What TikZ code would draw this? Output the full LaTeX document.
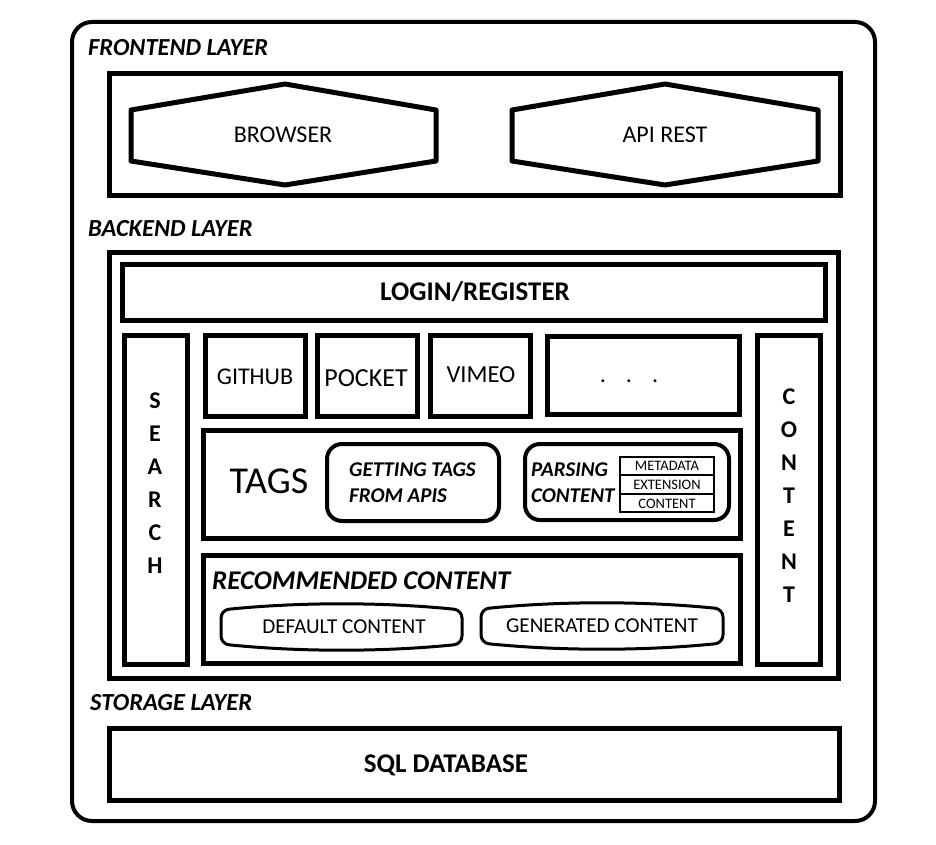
\documentclass[tikz,border=0pt]{standalone}
\usepackage{fontspec}
\setmainfont{Carlito}
\begin{document}
\begin{tikzpicture}[x=1pt,y=-1pt,
  frame/.style={draw=black,line width=5pt,fill=white},
  thinbox/.style={draw=black,line width=2pt},
  rbox/.style={draw=black,line width=4pt,rounded corners=15pt},
  lbl/.style={inner sep=0pt,anchor=west,font=\fontsize{24.5}{26}\selectfont\bfseries\itshape},
  txt/.style={inner sep=0pt,font=\fontsize{24}{26}\selectfont},
  btxt/.style={inner sep=0pt,font=\fontsize{27}{29}\selectfont\bfseries},
  ittxt/.style={inner sep=0pt,anchor=west,align=left,font=\fontsize{21}{26}\selectfont\bfseries\itshape},
  vtxt/.style={inner sep=0pt,align=center,font=\fontsize{24}{33}\selectfont\bfseries},
  smalltxt/.style={inner sep=0pt,font=\fontsize{14.5}{16}\selectfont},
  ctxt/.style={inner sep=0pt,font=\fontsize{21.2}{23}\selectfont}
]
\useasboundingbox[fill=white] (0,0) rectangle (936,845);

% outer container
\draw[line width=4pt,rounded corners=20pt] (72,22) rectangle (875,821);

% ---------------- frontend
\node[lbl] (lfront) at (88,48) {FRONTEND LAYER};
\draw[frame] (109,74) rectangle (840,195);
\draw[line width=5pt,line join=round] (131,110) -- (285,84) -- (436,110) -- (436,161) -- (285,185) -- (131,161) -- cycle;
\node[txt] (browser) at (283,135) {BROWSER};
\draw[line width=5pt,line join=round] (512,110) -- (665,84) -- (818,110) -- (818,161) -- (665,185) -- (512,161) -- cycle;
\node[txt] (api) at (665,135) {API REST};

% ---------------- backend
\node[lbl] (lback) at (88,229) {BACKEND LAYER};
\draw[frame] (109,252) rectangle (838,678);
\draw[frame] (122,264) rectangle (825,320);
\node[btxt] (login) at (475,292) {LOGIN/REGISTER};

\draw[frame] (124,335) rectangle (187,664);
\node[vtxt] (search) at (155,483) {S\\E\\A\\R\\C\\H};

\draw[frame] (205,335) rectangle (305,416);
\node[txt] (github) at (255,377) {GITHUB};
\draw[frame] (317,335) rectangle (417,416);
\node[txt,font=\fontsize{26}{28}\selectfont] (pocket) at (366,378) {POCKET};
\draw[frame] (430,335) rectangle (530,416);
\node[txt,font=\fontsize{24.5}{26}\selectfont] (vimeo) at (481,375) {VIMEO};
\draw[frame] (547,336) rectangle (739,414);
\node[txt] (dots) at (629,381) {.\hspace{20pt}.\hspace{20pt}.};

\draw[frame] (757,335) rectangle (820,664);
\node[vtxt] (contentcol) at (789,496) {C\\O\\N\\T\\E\\N\\T};

% tags
\draw[frame] (203,430) rectangle (740,538);
\node[inner sep=0pt,font=\fontsize{38}{40}\selectfont] (tags) at (269,481) {TAGS};
\draw[rbox] (327,444) rectangle (499,521);
\node[ittxt] (getting) at (349,483) {GETTING TAGS\\FROM APIS};
\draw[rbox] (525,444) rectangle (729,520);
\node[ittxt] (parsing) at (531,483) {PARSING\\CONTENT};
\draw[thinbox] (620,457) rectangle (714,475);
\node[smalltxt] (meta) at (667,466) {METADATA};
\draw[thinbox] (620,475) rectangle (714,494);
\node[smalltxt] (ext) at (667,485) {EXTENSION};
\draw[thinbox] (620,494) rectangle (714,512);
\node[smalltxt] (cont) at (667,504) {CONTENT};

% recommended
\draw[frame] (203,555) rectangle (740,663);
\node[inner sep=0pt,anchor=west,font=\fontsize{27}{29}\selectfont\bfseries\itshape] (rec) at (212,581) {RECOMMENDED CONTENT};
\draw[line width=3pt,rounded corners=8pt] (221,610) .. controls (300,602) and (383,602) .. (462,610) -- (462,644) .. controls (383,652) and (300,652) .. (221,644) -- cycle;
\node[ctxt] (default) at (344,627) {DEFAULT CONTENT};
\draw[line width=3pt,rounded corners=8pt] (481,609) .. controls (560,601) and (644,601) .. (723,609) -- (723,643) .. controls (644,651) and (560,651) .. (481,643) -- cycle;
\node[ctxt] (generated) at (602,626) {GENERATED CONTENT};

% ---------------- storage
\node[lbl] (lstore) at (90,703) {STORAGE LAYER};
\draw[frame] (109,728) rectangle (839,800);
\node[btxt] (sql) at (446,765) {SQL DATABASE};
\end{tikzpicture}
\end{document}
